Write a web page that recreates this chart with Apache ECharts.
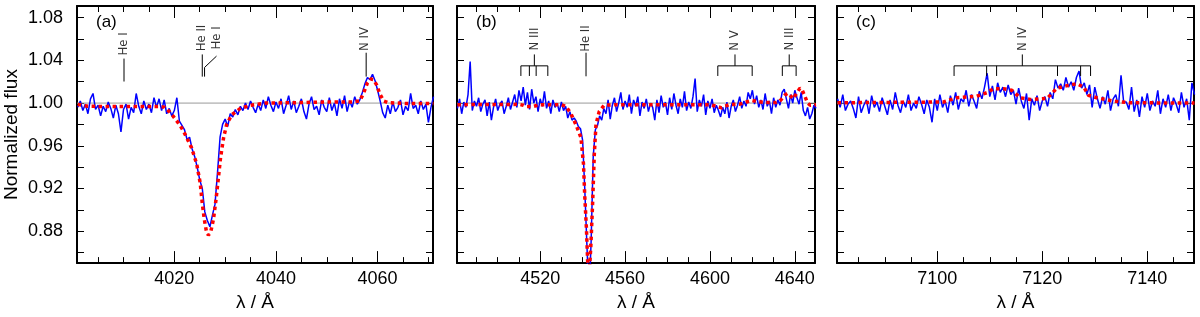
<!DOCTYPE html>
<html><head><meta charset="utf-8">
<script src="https://cdn.jsdelivr.net/npm/echarts@6/dist/echarts.min.js"></script>
<style>html,body{margin:0;padding:0;background:#fff}#c{width:1200px;height:317px}</style>
</head><body><div id="c"></div>
<script>
// ---------- observed spectra (uniform wavelength grids) ----------
const obsStartA = 4001, obsStepA = 0.5;
const obsFluxA = [
  0.996,1.002,0.993,0.999,0.990,1.004,1.009,0.994,0.998,0.988,
  0.997,0.992,1.001,0.995,0.986,0.998,0.990,0.973,0.994,0.999,
  0.985,0.996,0.991,1.009,0.997,0.990,1.002,0.994,0.999,0.991,
  1.005,0.996,1.004,0.993,1.003,0.990,0.995,0.988,0.993,1.005,
  0.983,0.979,0.975,0.966,0.968,0.957,0.950,0.940,0.928,0.920,
  0.898,0.890,0.884,0.895,0.905,0.935,0.968,0.980,0.985,0.978,
  0.990,0.987,0.994,0.989,0.997,0.993,1.000,0.994,1.002,0.996,
  0.991,0.999,0.993,1.003,0.995,1.006,0.998,0.992,1.001,0.995,
  1.004,0.990,0.998,1.007,0.994,1.002,0.991,0.997,1.004,0.992,
  0.985,0.999,1.006,0.994,0.997,0.989,1.003,0.996,0.992,1.005,
  0.993,1.000,0.988,1.004,0.995,1.007,0.992,1.002,0.996,1.006,
  0.999,1.003,1.010,1.018,1.024,1.022,1.027,1.021,1.012,1.002,
  0.991,0.986,0.998,0.990,1.001,0.992,0.996,1.003,0.989,0.997,
  0.993,1.009,0.995,0.998,0.990,1.002,0.994,0.999,0.982,0.996,
  1.006
];
const obsStartB = 4481, obsStepB = 1;
const obsFluxB = [
  0.995,1.004,0.990,1.001,0.996,1.008,1.039,0.993,1.002,0.997,
  1.005,0.992,0.999,1.003,0.988,1.001,0.984,0.996,1.004,0.993,
  0.999,1.002,0.990,0.997,1.005,0.994,1.001,1.008,0.996,1.012,
  1.002,1.015,0.998,1.010,0.994,1.013,1.000,1.006,0.992,1.004,
  0.997,1.011,0.995,1.002,0.990,1.003,0.996,1.000,0.992,1.001,
  0.993,0.997,0.986,0.992,0.984,0.986,0.983,0.978,0.976,0.965,
  0.920,0.868,0.818,0.870,0.950,0.975,0.979,0.988,0.984,0.995,
  0.990,1.003,0.985,0.998,1.005,0.992,1.000,1.010,0.994,1.002,
  0.996,1.008,0.990,1.003,0.997,1.006,0.988,1.001,0.995,1.004,
  0.992,1.000,0.996,0.984,1.003,0.991,1.007,0.996,1.001,0.989,
  1.005,0.994,1.009,0.998,0.990,1.004,0.996,1.011,0.993,1.001,
  0.995,1.006,1.023,0.992,1.003,0.997,1.008,0.989,1.002,0.995,
  1.004,0.991,0.998,0.993,0.987,0.996,0.990,1.001,0.986,0.997,
  1.003,0.992,0.998,1.006,0.995,1.002,0.997,1.010,1.004,1.012,
  0.999,1.007,0.996,1.003,0.994,1.009,0.997,1.002,0.990,1.005,
  0.996,1.003,0.998,1.010,1.013,1.004,0.995,1.008,1.000,1.012,
  1.005,0.999,1.010,0.993,0.988,0.996,0.985,0.990,0.998,0.995
];
const obsStartC = 7081, obsStepC = 0.5;
const obsFluxC = [
  1.004,0.996,1.008,0.993,0.999,1.002,0.995,0.986,1.006,0.991,
  0.998,1.003,0.990,1.007,0.996,1.001,0.992,1.005,0.997,0.989,
  1.003,0.994,1.010,0.998,0.991,1.002,0.996,1.008,0.993,1.000,
  0.995,1.006,0.999,0.990,1.003,0.996,0.982,1.004,0.993,1.008,
  0.996,1.002,0.991,1.007,0.998,1.010,0.994,1.004,1.001,1.012,
  0.997,1.008,1.002,0.995,1.011,1.004,1.015,1.028,1.006,1.016,
  1.003,1.019,1.010,1.015,1.006,1.017,1.008,1.012,0.999,1.014,
  1.002,0.995,1.009,0.984,1.004,0.998,1.007,0.993,1.002,1.006,
  0.997,1.010,1.004,1.022,1.014,1.018,1.012,1.024,1.015,1.020,
  1.012,1.024,1.030,1.014,1.019,1.008,1.017,0.996,1.015,1.004,
  0.995,1.006,0.999,1.012,0.993,1.004,1.008,0.997,1.026,1.001,
  1.001,0.994,1.015,0.992,1.003,0.987,1.006,0.996,1.009,0.993,
  1.002,0.997,1.012,0.990,1.004,0.996,1.008,0.993,1.005,0.999,
  0.991,1.010,0.996,1.004,0.984,1.019,1.008
];

// ---------- model spectra [wavelength, flux] ----------
const modelA = [[4001,0.9988],[4003,0.997],[4010,0.9967],[4017,0.9967],[4018,0.9962],[4019,0.992],[4019.8,0.9875],
  [4021,0.980],[4021.8,0.9738],[4023.4,0.958],[4024.4,0.943],[4025.1,0.925],[4025.5,0.906],[4025.9,0.891],
  [4026.3,0.880],[4026.7,0.876],[4027.2,0.880],[4027.7,0.891],[4028.2,0.9095],[4028.7,0.931],[4029.1,0.949],
  [4029.7,0.9676],[4030.3,0.980],[4031.3,0.989],[4033,0.995],[4035,0.998],[4038,1.0],[4045,1.0005],[4050,1.001],
  [4055,1.001],[4056.5,1.002],[4057.3,1.010],[4058,1.019],[4058.6,1.0225],[4059.2,1.022],[4059.8,1.017],
  [4060.5,1.008],[4061.2,1.002],[4062,1.0005],[4066,0.9995],[4071,0.9995]];
const modelB = [[4481,0.9985],[4510,0.9988],[4512,0.998],[4513.5,0.9967],[4516.5,0.9967],[4518,0.9975],[4520,0.9985],
  [4530,0.9985],[4532,0.997],[4534.4,0.9905],[4536.8,0.980],[4539.2,0.9676],[4540.4,0.943],[4541.0,0.913],
  [4541.8,0.882],[4542.4,0.85],[4542.9,0.82],[4543.4,0.85],[4543.9,0.867],[4544.7,0.906],[4545.5,0.952],
  [4546.3,0.980],[4547.8,0.992],[4550.2,0.998],[4555,0.9985],[4600,0.9985],[4603,0.997],[4605.5,0.9955],
  [4607,0.997],[4609,0.9985],[4614,0.999],[4618,1.0015],[4620,1.0025],[4622,1.0015],[4626,1.0005],[4631,1.0005],
  [4633,1.002],[4635.3,1.0075],[4636.5,1.009],[4637.6,1.008],[4639,1.004],[4640.5,1.008],[4642.4,1.014],
  [4643.5,1.012],[4644.8,1.006],[4646,1.0],[4647.2,0.998],[4650,0.9985]];
const modelC = [[7081,1.0003],[7101.2,1.001],[7103.7,1.005],[7107.5,1.0064],[7109.5,1.0098],[7110.7,1.0135],
  [7112.6,1.0135],[7114.2,1.012],[7115.8,1.005],[7117.7,1.0034],[7120.9,1.0043],[7122.8,1.014],[7125.3,1.017],
  [7126.6,1.018],[7127.9,1.015],[7128.8,1.0073],[7130.4,1.005],[7133.6,1.0018],[7136.7,1.0003],[7149,1.0]];

// ---------- axis ranges and ticks ----------
const yRange = [0.85, 1.091];
const yTicks = [0.86,0.88,0.90,0.92,0.94,0.96,0.98,1.00,1.02,1.04,1.06,1.08];
const yLabels = [0.88,0.92,0.96,1.00,1.04,1.08];
const xRangeA = [4000.85, 4070.9], xRangeB = [4480.8, 4649.5], xRangeC = [7080.9, 7148.9];
const xMajorA = [4020,4040,4060];
const xMinorA = [4005,4010,4015,4020,4025,4030,4035,4040,4045,4050,4055,4060,4065,4070];
const xMajorB = [4520,4560,4600,4640];
const xMinorB = [4490,4500,4510,4520,4530,4540,4550,4560,4570,4580,4590,4600,4610,4620,4630,4640];
const xMajorC = [7100,7120,7140];
const xMinorC = [7085,7090,7095,7100,7105,7110,7115,7120,7125,7130,7135,7140,7145];

// ---------- line identifications (segments in data coordinates) ----------
const markA = [
  [[4010.1,1.0202],[4010.1,1.0417]],
  [[4025.5,1.0248],[4025.5,1.0456]],
  [[4025.95,1.0248],[4025.95,1.0334],[4028.3,1.044]],
  [[4057.75,1.0248],[4057.75,1.0472]]
];
const labelA = [['He I',4010.1,1.0555],['He II',4025.3,1.061],['He I',4028.3,1.061],['N IV',4057.5,1.060]];
const markB = [
  [[4510.9,1.0254],[4510.9,1.0349],[4523.6,1.0349],[4523.6,1.0254]],
  [[4514.9,1.0254],[4514.9,1.0349]],[[4518.1,1.0254],[4518.1,1.0349]],
  [[4517.25,1.0349],[4517.25,1.0456]],
  [[4541.6,1.0251],[4541.6,1.0472]],
  [[4603.7,1.0254],[4603.7,1.0349],[4619.9,1.0349],[4619.9,1.0254]],
  [[4611.8,1.0349],[4611.8,1.0456]],
  [[4634.1,1.0254],[4634.1,1.0349],[4640.6,1.0349],[4640.6,1.0254]],
  [[4637.35,1.0349],[4637.35,1.0456]]
];
const labelB = [['N III',4517.25,1.060],['He II',4541.6,1.0605],['N V',4611.8,1.0586],['N III',4637.35,1.060]];
const markC = [
  [[7103.2,1.0254],[7103.2,1.0349],[7129.2,1.0349],[7129.2,1.0254]],
  [[7109.4,1.0254],[7109.4,1.0349]],[[7111.3,1.0254],[7111.3,1.0349]],
  [[7122.9,1.0254],[7122.9,1.0349]],[[7127.3,1.0254],[7127.3,1.0349]],
  [[7116.2,1.0349],[7116.2,1.0456]]
];
const labelC = [['N IV',7116.2,1.060]];

// ---------- build chart ----------
const FONT = "'Liberation Sans', Arial, Helvetica, sans-serif";
const NARROW = "'Liberation Sans Narrow', 'DejaVu Sans Condensed', sans-serif";
const panels = [
  {left:77, width:356, xr:xRangeA, maj:xMajorA, min:xMinorA, start:obsStartA, step:obsStepA, flux:obsFluxA, model:modelA, marks:markA, labels:labelA, tag:'(a)'},
  {left:457, width:358, xr:xRangeB, maj:xMajorB, min:xMinorB, start:obsStartB, step:obsStepB, flux:obsFluxB, model:modelB, marks:markB, labels:labelB, tag:'(b)'},
  {left:837, width:357, xr:xRangeC, maj:xMajorC, min:xMinorC, start:obsStartC, step:obsStepC, flux:obsFluxC, model:modelC, marks:markC, labels:labelC, tag:'(c)'}
];
const grids = [], xAxes = [], yAxes = [], series = [], titles = [];
panels.forEach((p, gi) => {
  grids.push({left:p.left, top:6, width:p.width, height:262, containLabel:false});
  titles.push({text:p.tag, left:p.left+19, top:14, padding:0,
    textStyle:{fontSize:17, fontWeight:'normal', color:'#000', fontFamily:FONT}});
  ['bottom','top'].forEach(pos => {
    xAxes.push({type:'value', gridIndex:gi, position:pos, min:p.xr[0], max:p.xr[1],
      axisLine:{show:true, onZero:false, lineStyle:{color:'#000', width:2}},
      axisTick:{show:true, inside:true, length:12, customValues:p.maj, lineStyle:{color:'#000', width:1}},
      axisLabel:{show:pos==='bottom', customValues:p.maj, margin:7, fontSize:18, color:'#000', fontFamily:FONT,
        formatter:v => String(Math.round(v))},
      splitLine:{show:false},
      name: pos==='bottom' ? 'λ / Å' : '', nameLocation:'middle', nameGap:28,
      nameTextStyle:{fontSize:19, color:'#000', fontFamily:FONT}});
    xAxes.push({type:'value', gridIndex:gi, position:pos, min:p.xr[0], max:p.xr[1],
      axisLine:{show:false, onZero:false},
      axisTick:{show:true, inside:true, length:6, customValues:p.min, lineStyle:{color:'#000', width:1}},
      axisLabel:{show:false}, splitLine:{show:false}});
  });
  ['left','right'].forEach(pos => {
    const lab = pos==='left' && gi===0;
    yAxes.push({type:'value', gridIndex:gi, position:pos, min:yRange[0], max:yRange[1],
      axisLine:{show:true, onZero:false, lineStyle:{color:'#000', width:2}},
      axisTick:{show:true, inside:true, length:7, customValues:yTicks, lineStyle:{color:'#000', width:1}},
      axisLabel:{show:lab, customValues:yLabels, margin:14, fontSize:18, color:'#000', fontFamily:FONT,
        formatter:v => Number(v).toFixed(2)},
      splitLine:{show:false},
      name: lab ? 'Normalized flux' : '', nameLocation:'middle', nameGap:56, nameRotate:90,
      nameTextStyle:{fontSize:19, color:'#000', fontFamily:FONT}});
  });
  const xi = gi*4, yi = gi*2;
  series.push({type:'line', xAxisIndex:xi, yAxisIndex:yi, data:[[p.xr[0],1.0],[p.xr[1],1.0]],
    symbol:'none', silent:true, lineStyle:{color:'#9a9a9a', width:1}, z:1});
  series.push({type:'line', xAxisIndex:xi, yAxisIndex:yi,
    data:p.flux.map((f,i)=>[p.start + i*p.step, f]), symbol:'none', silent:true, clip:true,
    lineStyle:{color:'#0000ff', width:1.5}, z:2});
  series.push({type:'line', xAxisIndex:xi, yAxisIndex:yi, data:p.model, symbol:'none', silent:true, clip:true,
    lineStyle:{color:'#ff0000', width:3.5, type:[3.5,3.5]}, z:3});
  series.push({type:'lines', coordinateSystem:'cartesian2d', xAxisIndex:xi, yAxisIndex:yi, polyline:true,
    silent:true, data:p.marks.map(c=>({coords:c})), lineStyle:{color:'#000', width:1, opacity:1}, z:4});
  series.push({type:'scatter', xAxisIndex:xi, yAxisIndex:yi, symbolSize:0.1, silent:true,
    data:p.labels.map(l=>({name:l[0], value:[l[1], l[2]]})),
    label:{show:true, position:'inside', rotate:90, formatter:'{b}', fontSize:13, color:'#000', fontFamily:NARROW,
      align:'center', verticalAlign:'middle'}, z:5});
});
const chart = echarts.init(document.getElementById('c'), null, {renderer:'canvas'});
chart.setOption({animation:false, backgroundColor:'#fff', title:titles, grid:grids, xAxis:xAxes, yAxis:yAxes, series:series});
</script>
</body></html>
